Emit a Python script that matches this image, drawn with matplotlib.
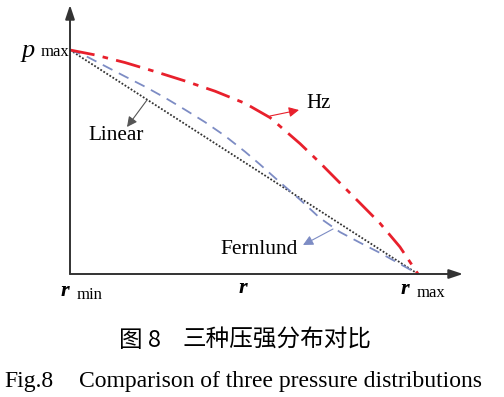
import matplotlib
matplotlib.use('Agg')
import matplotlib.pyplot as plt
from matplotlib.patches import FancyArrowPatch

# normalised radius (r_min -> 0, r_max -> 1) and pressure (p_max -> 1)
r_hz = [0, 0.072, 0.158, 0.244, 0.330, 0.417, 0.503, 0.575, 0.661, 0.718, 0.776, 0.833, 0.891, 0.948, 1.0]
p_hz = [1, 0.978, 0.944, 0.904, 0.862, 0.816, 0.762, 0.698, 0.582, 0.497, 0.406, 0.317, 0.226, 0.121, 0.0]

r_fern = [0, 0.043, 0.101, 0.158, 0.216, 0.273, 0.330, 0.388, 0.445, 0.503,
          0.546, 0.603, 0.661, 0.718, 0.776, 0.833, 0.891, 0.948, 1.0]
p_fern = [1, 0.975, 0.928, 0.882, 0.836, 0.787, 0.734, 0.678, 0.617, 0.546,
          0.489, 0.410, 0.332, 0.250, 0.187, 0.140, 0.094, 0.045, 0.0]

r_lin = [0, 1.0]
p_lin = [1, 0.0]

W, H = 504, 397
serif = ['Liberation Serif', 'DejaVu Serif']
cjk = ['Noto Sans CJK SC', 'DejaVu Sans']


def px(x, y):
    # pixel position (from top-left) -> figure fraction
    return (x / W, 1 - y / H)


fig = plt.figure(figsize=(W / 100, H / 100), dpi=100)
x0, y0, x1, y1 = 70, 274, 418, 50
ax = fig.add_axes([x0 / W, 1 - y0 / H, (x1 - x0) / W, (y0 - y1) / H])
ax.set_xlim(0, 1)
ax.set_ylim(0, 1)
ax.axis('off')

ax.plot(r_lin, p_lin, color='#333333', ls=(0, (1, 1)), lw=1.3, clip_on=False)
ax.plot(r_fern, p_fern, color='#7d8cc4', ls=(0, (6, 4)), lw=1.3, clip_on=False)
ax.plot(r_hz, p_hz, color='#e8202c', ls=(0, (9, 3, 2, 3)), lw=2.0, clip_on=False)

# axes with arrows
axis_kw = dict(arrowstyle='-|>,head_length=0.6,head_width=0.2', color='#333333', lw=1.4,
               shrinkA=0, shrinkB=0, mutation_scale=14, transform=fig.transFigure)
fig.add_artist(FancyArrowPatch(px(70, 274), px(70, 5), **axis_kw))
fig.add_artist(FancyArrowPatch(px(70, 274), px(463, 274), **axis_kw))


# label arrows (from curve to label)
def pointer(a, b, color):
    fig.add_artist(FancyArrowPatch(px(*a), px(*b), transform=fig.transFigure,
                                   arrowstyle='-|>,head_length=0.5,head_width=0.25',
                                   mutation_scale=12, color=color, lw=0.8,
                                   shrinkA=0, shrinkB=0))


pointer((270, 116), (299, 110), '#e8202c')
pointer((147, 100), (127, 127), '#555555')
pointer((333, 229), (303, 245), '#7d8cc4')

fig.text(*px(306, 104), 'Hz', family=serif, fontsize=15, va='center', ha='left')
fig.text(*px(116, 135), 'Linear', family=serif, fontsize=15.3, va='center', ha='center')
fig.text(*px(259, 249), 'Fernlund', family=serif, fontsize=15.5, va='center', ha='center')

# axis labels
fig.text(*px(22, 57), 'p', family=serif, style='italic', fontsize=19, va='baseline', ha='left')
fig.text(*px(41, 56), 'max', family=serif, fontsize=12, va='baseline', ha='left')
fig.text(*px(61, 296), 'r', family=serif, style='italic', weight='bold', fontsize=16, va='baseline', ha='left')
fig.text(*px(77, 299), 'min', family=serif, fontsize=12, va='baseline', ha='left')
fig.text(*px(243, 293), 'r', family=serif, style='italic', weight='bold', fontsize=16, va='baseline', ha='center')
fig.text(*px(401, 294), 'r', family=serif, style='italic', weight='bold', fontsize=16, va='baseline', ha='left')
fig.text(*px(417, 297), 'max', family=serif, fontsize=12, va='baseline', ha='left')

# captions
fig.text(*px(119, 347), '图 8', family=cjk, fontsize=17, va='baseline', ha='left')
fig.text(*px(183, 347), '三种压强分布对比', family=cjk, fontsize=17, va='baseline', ha='left')
fig.text(*px(4, 387), 'Fig.8', family=serif, fontsize=17, va='baseline', ha='left')
fig.text(*px(79, 387), 'Comparison of three pressure distributions', family=serif, fontsize=17,
         va='baseline', ha='left')

fig.savefig('out.png', dpi=100)
